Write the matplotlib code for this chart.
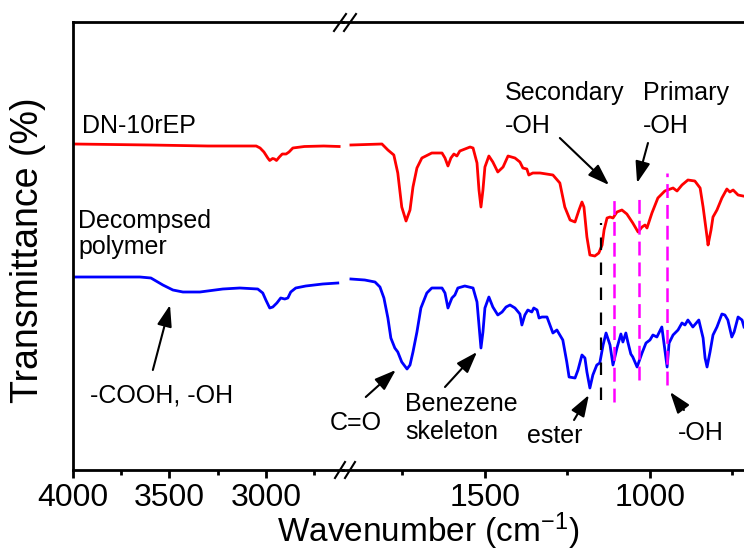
import matplotlib
matplotlib.use('Agg')
import matplotlib.pyplot as plt
from matplotlib.lines import Line2D

plt.rcParams['font.family'] = ['Liberation Sans', 'DejaVu Sans']
plt.rcParams['mathtext.default'] = 'regular'
plt.rcParams['lines.scale_dashes'] = False

# ---------------- data ----------------
red_left_wn = [4000, 3800, 3600, 3300, 3050, 3030, 3010, 2990, 2980, 2965, 2955, 2945, 2930,
               2915, 2895, 2880, 2860, 2800, 2700, 2620]
red_left_T = [326, 325.5, 325, 324, 324, 322, 318, 312, 309.5, 311.5, 311, 309.5, 313,
              316, 316, 318, 322, 323.5, 324, 323.5]

blue_left_wn = [4000, 3653, 3596, 3534, 3482, 3430, 3342, 3223, 3135, 3042, 3016, 3000, 2980,
                2964, 2943, 2923, 2902, 2886, 2871, 2845, 2793, 2705, 2627]
blue_left_T = [193, 193, 192, 185, 180, 178, 178, 181, 182, 181, 177, 170, 162,
               163, 167, 172, 171, 172, 178, 182, 184, 186, 187]

red_right_wn = [1906, 1812, 1794, 1776, 1764, 1752, 1739, 1727, 1718, 1706,
                1691, 1661, 1630, 1621, 1612, 1603, 1594, 1585, 1576, 1545,
                1536, 1524, 1518, 1512, 1506, 1500, 1488, 1476, 1461, 1445,
                1430, 1409, 1394, 1385, 1373, 1367, 1355,
                1333, 1294, 1273, 1258, 1242, 1227, 1215, 1206, 1200, 1191,
                1182, 1167, 1155, 1145, 1139, 1130, 1121, 1112, 1100, 1085,
                1070, 1052, 1036, 1024, 1015, 1009, 994, 976, 955, 930,
                918, 903, 885, 864, 848, 839, 827, 824, 815, 809,
                797, 782, 767, 758, 748, 733, 718]
red_right_T = [325, 326, 320, 315, 297, 263, 249, 260, 283, 302,
               312, 317, 317, 312, 304, 312, 316, 314, 319, 323,
               322, 307, 280, 263, 280, 303, 314, 308, 298, 303,
               314, 312, 308, 302, 301, 295, 297,
               297, 295, 287, 263, 250, 248, 260, 268, 263, 233,
               215, 214, 217, 225, 240, 252, 253, 252, 258, 260,
               256, 247, 238, 243, 245, 242, 257, 272, 279, 282,
               279, 285, 290, 289, 282, 263, 233, 225, 240, 253,
               260, 272, 281, 278, 280, 275, 274]

blue_right_wn = [1906, 1864, 1833, 1818, 1806, 1794, 1785, 1773, 1764, 1752,
                 1736, 1727, 1718, 1706, 1694, 1676, 1661, 1630, 1621, 1612,
                 1600, 1591, 1582, 1561, 1536, 1524, 1518, 1512, 1506, 1500,
                 1488, 1476, 1461, 1448, 1436, 1424, 1409, 1394, 1388, 1379,
                 1370, 1358, 1352, 1342, 1336, 1327, 1312, 1294, 1282, 1264,
                 1252, 1245, 1227, 1218, 1206, 1197, 1191, 1182, 1173, 1161,
                 1152, 1142, 1133, 1121, 1112, 1100, 1088, 1082, 1073, 1067,
                 1058, 1052, 1039, 1024, 1012, 1000, 991, 979, 964, 958,
                 948, 942, 930, 915, 903, 894, 885, 870, 852, 839,
                 833, 827, 818, 809, 797, 782, 773, 764, 752, 745,
                 733, 721, 715]
blue_right_T = [191, 190, 188, 183, 172, 152, 132, 122, 118, 108,
                101, 105, 118, 138, 162, 177, 182, 182, 177, 162,
                172, 175, 182, 184, 182, 168, 145, 122, 138, 162,
                173, 163, 155, 158, 163, 165, 162, 156, 145, 155,
                160, 158, 162, 160, 152, 153, 153, 137, 140, 130,
                108, 93, 92, 100, 115, 112, 98, 82, 95, 105,
                107, 125, 137, 125, 105, 122, 136, 128, 137, 128,
                116, 113, 103, 117, 127, 130, 135, 133, 143, 128,
                103, 127, 135, 140, 147, 145, 150, 143, 150, 132,
                112, 103, 118, 135, 143, 156, 155, 150, 133, 138,
                153, 150, 143]

left_major = [4000, 3500, 3000]
left_minor = [3750, 3250, 2750]
right_major = [1500, 1000]
right_minor = [1750, 1250, 750]

ester_line_wn = 1149
ester_line_T = [70, 247]
oh_lines_wn = [1110, 1034, 948]
oh_lines_T = [[68, 275], [90, 275], [85, 297]]

# ---------------- figure ----------------
W, H = 744, 553
fig = plt.figure(figsize=(W / 100, H / 100), dpi=100)


def fx(px):
    return px / W


def fy(py):
    return 1 - py / H


ax_l = fig.add_axes([fx(73), fy(470), fx(343) - fx(73), (470 - 22) / H])
ax_r = fig.add_axes([fx(343), fy(470), fx(746) - fx(343), (470 - 22) / H])

ax_l.set_xlim(4000, 2600)
ax_r.set_xlim(1930, 709)
for ax in (ax_l, ax_r):
    ax.patch.set_visible(False)
    ax.set_ylim(0, 448)
    ax.set_yticks([])
    for s in ax.spines.values():
        s.set_linewidth(2)
    ax.tick_params(axis='x', which='major', direction='out', length=6, width=2,
                   labelsize=23, pad=3)
    ax.tick_params(axis='x', which='minor', direction='out', length=3.5, width=2)
ax_l.spines['right'].set_visible(False)
ax_r.spines['left'].set_visible(False)
ax_r.spines['right'].set_visible(False)

ax_l.set_xticks(left_major)
ax_l.set_xticks(left_minor, minor=True)
ax_r.set_xticks(right_major)
ax_r.set_xticks(right_minor, minor=True)

lw = 2.0
ax_l.plot(red_left_wn, red_left_T, color='#ff0000', lw=lw)
ax_l.plot(blue_left_wn, blue_left_T, color='#0000ff', lw=lw)
ax_r.plot(red_right_wn, red_right_T, color='#ff0000', lw=lw)
ax_r.plot(blue_right_wn, blue_right_T, color='#0000ff', lw=lw)

ax_r.plot([ester_line_wn, ester_line_wn], ester_line_T, color='k', lw=1.6,
          dashes=(9, 9))
for wn, tt in zip(oh_lines_wn, oh_lines_T):
    ax_r.plot([wn, wn], tt, color='#ff00ff', lw=1.8, dashes=(10, 5))

# ---------------- texts ----------------
fs = 18
ax_l.text(3953, 337, 'DN-10rEP', fontsize=fs, va='baseline')
ax_l.text(3974, 242, 'Decompsed', fontsize=fs, va='baseline')
ax_l.text(3974, 216, 'polymer', fontsize=fs, va='baseline')
ax_l.text(3912, 67, '-COOH, -OH', fontsize=fs, va='baseline')
ax_l.text(2669, 40, 'C=O', fontsize=fs, va='baseline', clip_on=False, zorder=10)
ax_r.text(1742, 59, 'Benezene', fontsize=fs, va='baseline')
ax_r.text(1742, 31, 'skeleton', fontsize=fs, va='baseline')
ax_r.text(1373, 27, 'ester', fontsize=fs, va='baseline')
ax_r.text(915, 30, '-OH', fontsize=fs, va='baseline')
ax_r.text(1439, 370, 'Secondary', fontsize=fs, va='baseline')
ax_r.text(1439, 337, '-OH', fontsize=fs, va='baseline')
ax_r.text(1021, 370, 'Primary', fontsize=fs, va='baseline')
ax_r.text(1021, 337, '-OH', fontsize=fs, va='baseline')

arrow_kw = dict(arrowstyle='-|>,head_length=1.3,head_width=0.45', mutation_scale=10,
                lw=1.5, color='k', shrinkA=0, shrinkB=0)
ax_l.annotate('', xy=(3497, 165), xytext=(3586, 100), arrowprops=arrow_kw)
ax_r.annotate('', xy=(1770, 100), xytext=(1861, 73), arrowprops=arrow_kw,
              annotation_clip=False)
ax_r.annotate('', xy=(1524, 118), xytext=(1621, 83), arrowprops=arrow_kw)
ax_r.annotate('', xy=(1185, 75), xytext=(1230, 50), arrowprops=arrow_kw)
ax_r.annotate('', xy=(939, 78), xytext=(897, 60), arrowprops=arrow_kw)
ax_r.annotate('', xy=(1124, 285), xytext=(1273, 332), arrowprops=arrow_kw)
ax_r.annotate('', xy=(1039, 287), xytext=(1006, 327), arrowprops=arrow_kw)

fig.text(fx(428), fy(552), 'Wavenumber (cm$^{-1}$)', fontsize=24, ha='center',
         va='bottom')
fig.text(fx(28), fy(250), 'Transmittance (%)', fontsize=27, rotation=90,
         ha='center', va='center')

# axis-break marks
for (x0, y0, x1, y1) in [(334, 31, 346, 14), (344, 31, 356, 14),
                         (335, 478, 345, 462), (345, 478, 355, 462)]:
    fig.add_artist(Line2D([fx(x0), fx(x1)], [fy(y0), fy(y1)], color='k', lw=1.5,
                          transform=fig.transFigure))

fig.savefig('out.png', dpi=100)
